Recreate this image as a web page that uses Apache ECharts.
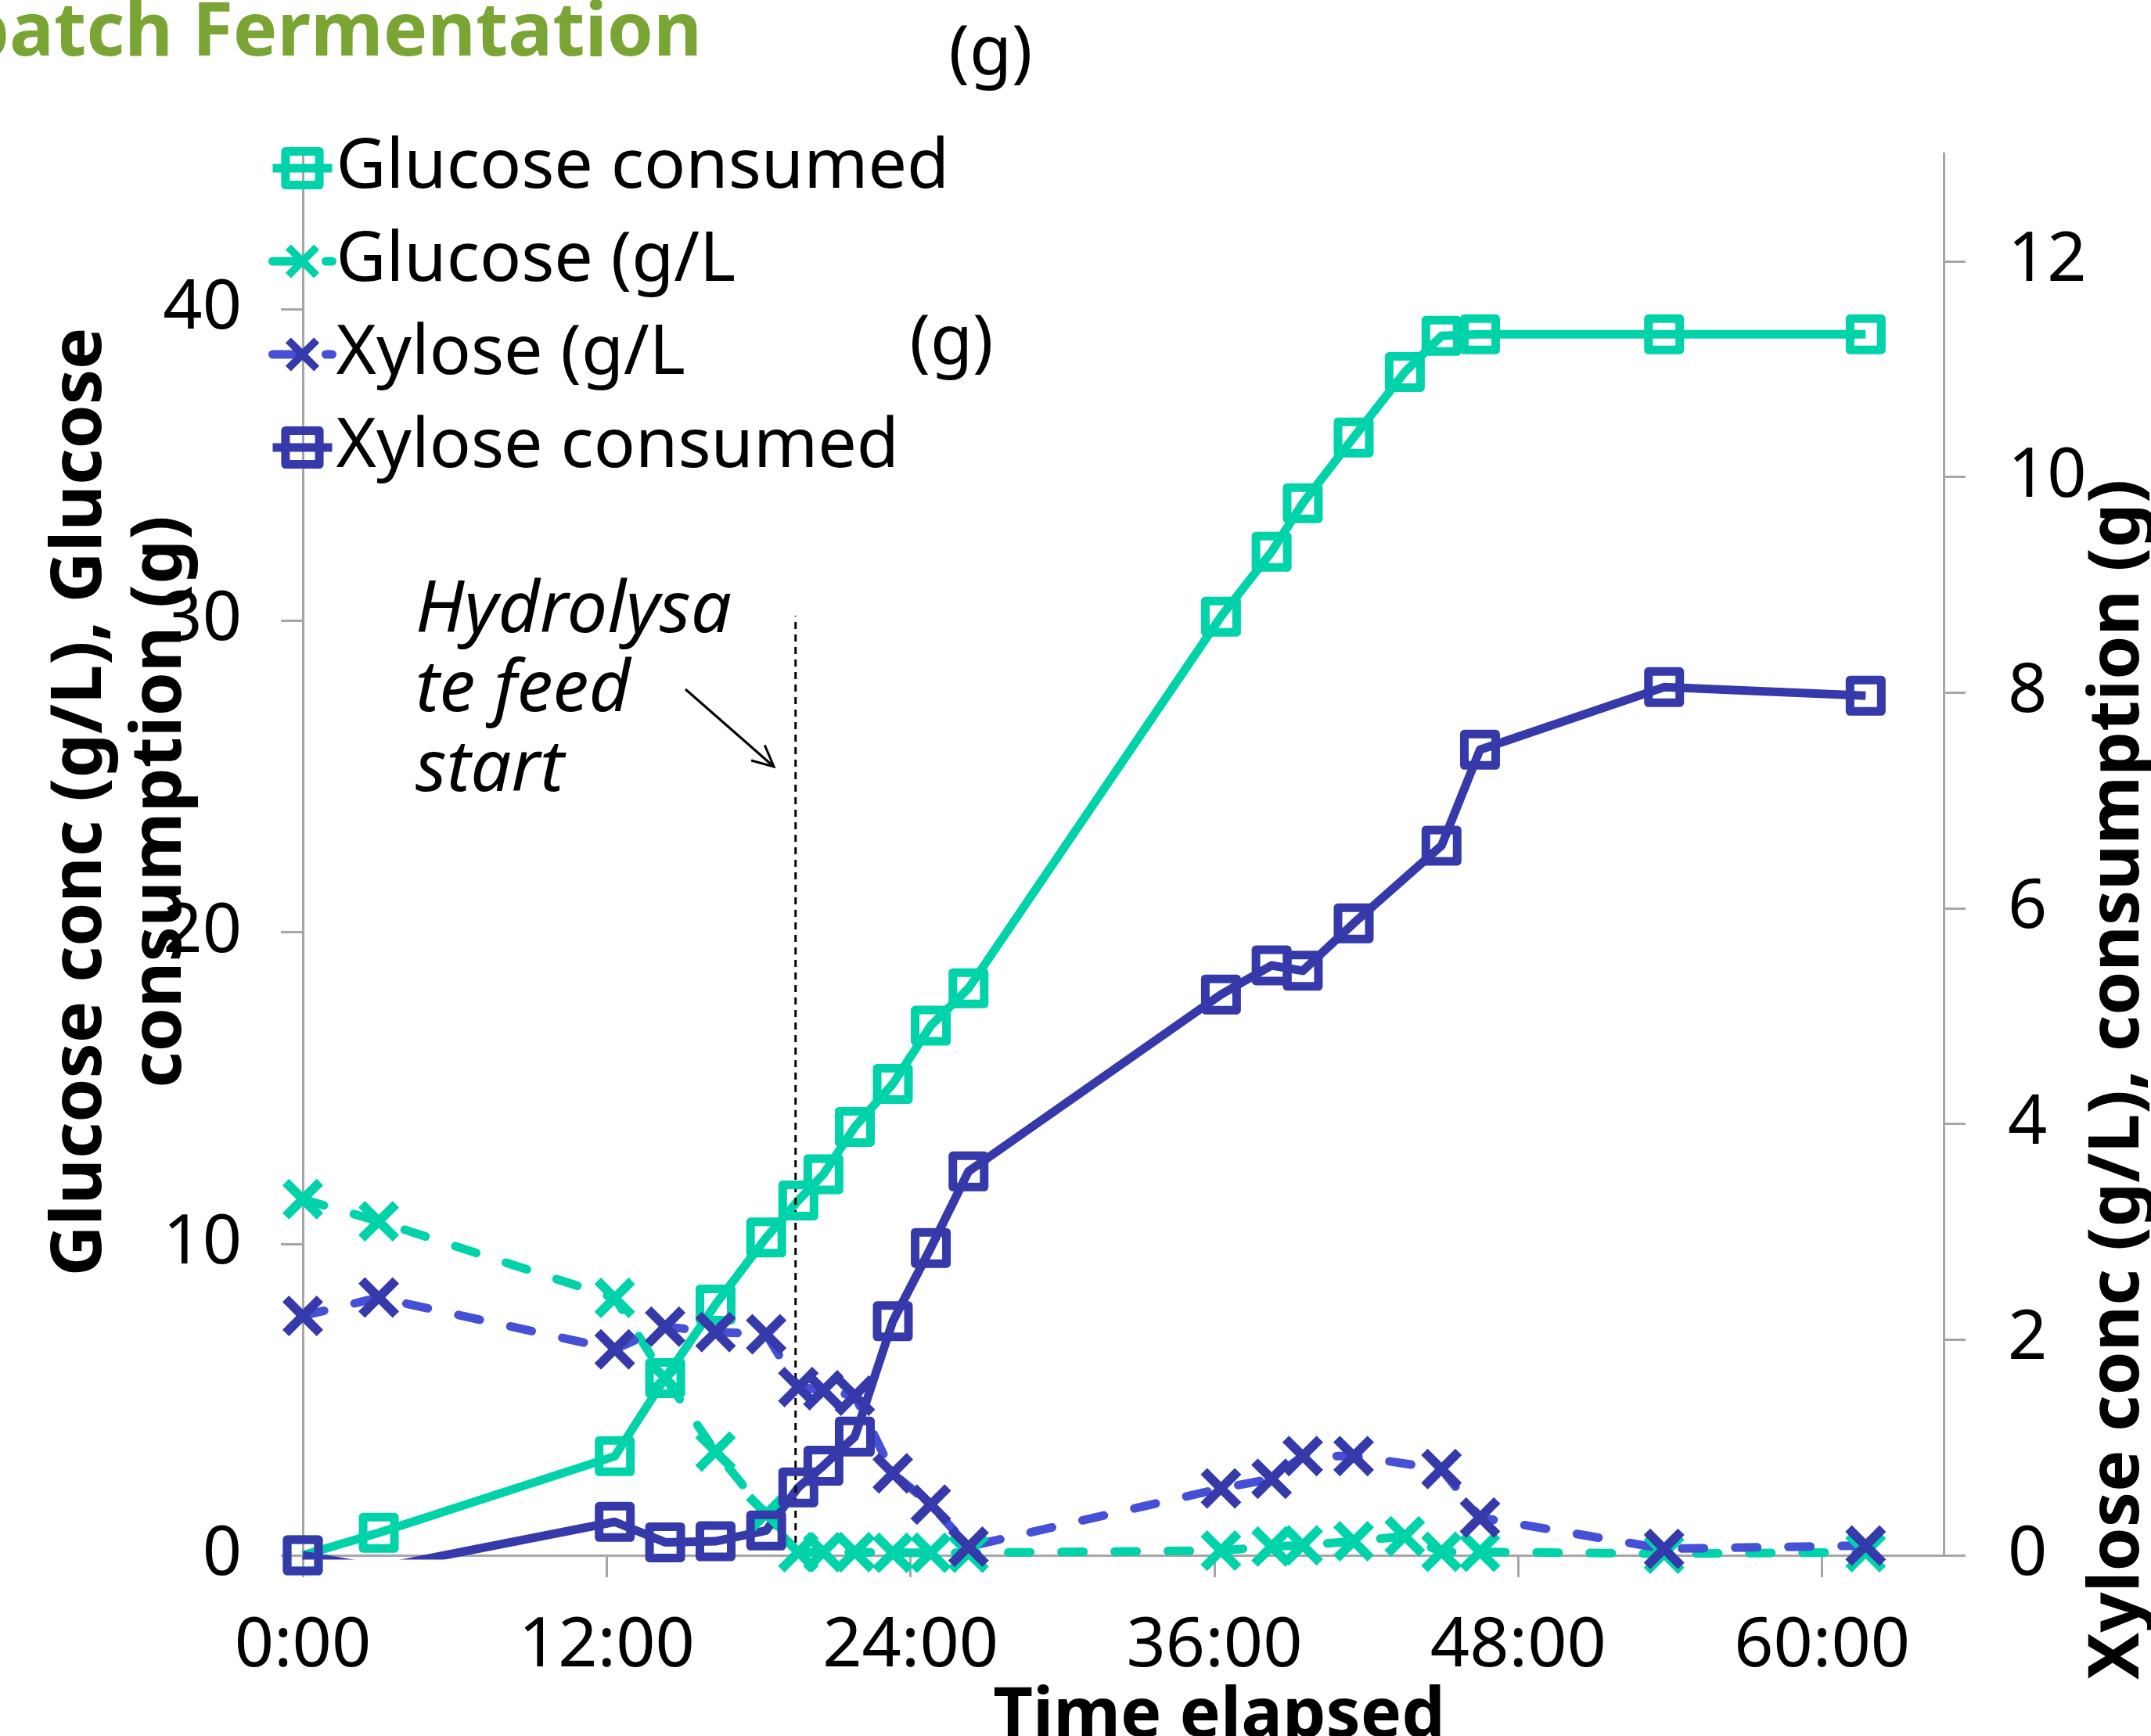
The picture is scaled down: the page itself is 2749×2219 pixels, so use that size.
<!DOCTYPE html>
<html>
<head>
<meta charset="utf-8">
<title>Fed-batch Fermentation</title>
<script src="https://cdn.jsdelivr.net/npm/echarts@6/dist/echarts.min.js"></script>
<style>
  html, body { margin: 0; padding: 0; background: #fff; }
  #chart { width: 2749px; height: 2219px; }
</style>
</head>
<body>
<div id="chart"></div>
<script>
// time points (hours) for the glucose series
const glucoseHours = [0, 3.0, 12.32, 14.31, 16.3, 18.3, 19.57, 20.56, 21.8, 23.3, 24.8, 26.29,
  36.26, 38.26, 39.49, 41.5, 43.52, 44.97, 46.49, 53.76, 61.72]
// time points (hours) for the xylose series (no sample at 43.5 h)
const xyloseHours = [0, 3.0, 12.32, 14.31, 16.3, 18.3, 19.57, 20.56, 21.8, 23.3, 24.8, 26.29,
  36.26, 38.26, 39.49, 41.5, 44.97, 46.49, 53.76, 61.72]

const glucoseConsumed = [0, 0.72, 3.18, 5.69, 8.05, 10.2, 11.39, 12.23, 13.75, 15.13, 17.0, 18.2,
  30.13, 32.21, 33.77, 35.88, 37.98, 39.14, 39.19, 39.19, 39.19]
const glucoseConc = [11.43, 10.72, 8.26, 5.69, 3.33, 1.33, 0.1, 0.1, 0.1, 0.08, 0.08, 0.08,
  0.15, 0.28, 0.32, 0.45, 0.61, 0.11, 0.11, 0.05, 0.1]
const xyloseConc = [2.22, 2.39, 1.91, 2.12, 2.07, 2.05, 1.56, 1.53, 1.48, 0.76, 0.47, 0.08,
  0.62, 0.71, 0.92, 0.92, 0.8, 0.35, 0.06, 0.09]
const xyloseConsumed = [0, -0.12, 0.31, 0.12, 0.13, 0.23, 0.63, 0.83, 1.1, 2.17, 2.85, 3.56,
  5.2, 5.47, 5.42, 5.86, 6.58, 7.47, 8.05, 7.97]

const xTicks = [0, 12, 24, 36, 48, 60]
const leftTicks = [0, 10, 20, 30, 40]
const rightTicks = [0, 2, 4, 6, 8, 10, 12]

// hydrolysate feed start marker
const feedStartHour = 19.46
const feedLineTop = 30.15

const TEAL = '#00d2aa'
const NAVY = '#3539a9'
const BLUE_DASH = '#4650d6'
const AXIS_GRAY = '#a6a6a6'
const FONT = '"Noto Sans", sans-serif'
const X_SYMBOL = 'path://M0,1.6L1.6,0L5,3.4L8.4,0L10,1.6L6.6,5L10,8.4L8.4,10L5,6.6L1.6,10L0,8.4L3.4,5Z'
const LINE_W = 11
const BORDER_W = 11

const pairs = (xs, ys) => xs.map((x, i) => [x, ys[i]])

const chart = echarts.init(document.getElementById('chart'), null, { renderer: 'canvas' })

// arrow of the annotation
const arrowFrom = [876, 881]
const arrowTo = [989, 980]
const ang = Math.atan2(arrowTo[1] - arrowFrom[1], arrowTo[0] - arrowFrom[0])
const headLen = 30
const head = [
  [arrowTo[0] - headLen * Math.cos(ang - 0.45), arrowTo[1] - headLen * Math.sin(ang - 0.45)],
  arrowTo,
  [arrowTo[0] - headLen * Math.cos(ang + 0.45), arrowTo[1] - headLen * Math.sin(ang + 0.45)]
]

const axisCommon = {
  axisLine: { show: true, lineStyle: { color: AXIS_GRAY, width: 3 } },
  axisTick: { show: true, inside: false, length: 28, lineStyle: { color: AXIS_GRAY, width: 3 } },
  splitLine: { show: false },
}

const squareStyle = (c) => ({ color: 'rgba(255,255,255,0)', borderColor: c, borderWidth: BORDER_W, borderJoin: 'round' })

const option = {
  animation: false,
  backgroundColor: '#fff',
  grid: { left: 387, right: 265, top: 196, bottom: 231, containLabel: false, outerBoundsMode: 'none' },
  legend: {
    data: [
      { name: 'Glucose consumed', itemStyle: { borderWidth: BORDER_W } },
      { name: 'Glucose (g/L' },
      { name: 'Xylose (g/L' },
      { name: 'Xylose consumed', itemStyle: { borderWidth: BORDER_W } },
    ],
    orient: 'vertical',
    left: 343,
    top: 165,
    padding: 0,
    itemWidth: 76,
    itemHeight: 54,
    itemGap: 19,
    lineStyle: { width: LINE_W },
    textStyle: { fontFamily: FONT, fontSize: 88, color: '#000', lineHeight: 100 },
  },
  xAxis: {
    type: 'value',
    min: 0,
    max: 64.8,
    interval: 12,
    ...axisCommon,
    axisTick: { ...axisCommon.axisTick, customValues: xTicks },
    axisLabel: {
      customValues: xTicks,
      formatter: (v) => v + ':00',
      fontFamily: FONT, fontSize: 88, color: '#000', margin: 73,
    },
  },
  yAxis: [
    {
      type: 'value',
      min: 0, max: 45, interval: 10,
      position: 'left',
      ...axisCommon,
      axisTick: { ...axisCommon.axisTick, customValues: leftTicks },
      axisLabel: { customValues: leftTicks, fontFamily: FONT, fontSize: 88, color: '#000', margin: 78 },
    },
    {
      type: 'value',
      min: 0, max: 13, interval: 2,
      position: 'right',
      ...axisCommon,
      axisTick: { ...axisCommon.axisTick, customValues: rightTicks },
      axisLabel: { customValues: rightTicks, fontFamily: FONT, fontSize: 88, color: '#000', margin: 82 },
    },
  ],
  series: [
    {
      name: 'Glucose consumed',
      type: 'line',
      yAxisIndex: 0,
      data: pairs(glucoseHours, glucoseConsumed),
      symbol: 'rect',
      symbolSize: 40,
      itemStyle: squareStyle(TEAL),
      lineStyle: { color: TEAL, width: LINE_W, join: 'round' },
    },
    {
      name: 'Glucose (g/L',
      type: 'line',
      yAxisIndex: 0,
      data: pairs(glucoseHours, glucoseConc),
      symbol: X_SYMBOL,
      symbolSize: 52,
      itemStyle: { color: TEAL },
      lineStyle: { color: TEAL, width: LINE_W, type: [28, 40], cap: 'round', join: 'round' },
    },
    {
      name: 'Xylose (g/L',
      type: 'line',
      yAxisIndex: 1,
      data: pairs(xyloseHours, xyloseConc),
      symbol: X_SYMBOL,
      symbolSize: 52,
      itemStyle: { color: NAVY },
      lineStyle: { color: BLUE_DASH, width: LINE_W, type: [28, 40], cap: 'round', join: 'round' },
    },
    {
      name: 'Xylose consumed',
      type: 'line',
      yAxisIndex: 1,
      data: pairs(xyloseHours, xyloseConsumed),
      symbol: 'rect',
      symbolSize: 40,
      itemStyle: squareStyle(NAVY),
      lineStyle: { color: NAVY, width: LINE_W, join: 'round' },
    },
    {
      name: 'feed start',
      type: 'line',
      yAxisIndex: 0,
      data: [[feedStartHour, 0], [feedStartHour, feedLineTop]],
      symbol: 'none',
      silent: true,
      lineStyle: { color: '#000', width: 3, type: [9, 7] },
    },
  ],
  graphic: [
    {
      type: 'text', x: 897, y: 44,
      style: { text: 'Fed-batch Fermentation', font: 'bold 95px ' + FONT, fill: '#7aa535', align: 'right', verticalAlign: 'middle' },
    },
    {
      type: 'text', x: 1266, y: 70,
      style: { text: '(g)', font: '88px ' + FONT, fill: '#000', align: 'center', verticalAlign: 'middle' },
    },
    {
      type: 'text', x: 1216, y: 440,
      style: { text: '(g)', font: '88px ' + FONT, fill: '#000', align: 'center', verticalAlign: 'middle' },
    },
    {
      type: 'text', x: 531, y: 782,
      style: { text: 'Hydrolysa', font: 'italic 92px ' + FONT, fill: '#000', align: 'left', verticalAlign: 'middle' },
    },
    {
      type: 'text', x: 531, y: 883,
      style: { text: 'te feed', font: 'italic 92px ' + FONT, fill: '#000', align: 'left', verticalAlign: 'middle' },
    },
    {
      type: 'text', x: 531, y: 985,
      style: { text: 'start', font: 'italic 92px ' + FONT, fill: '#000', align: 'left', verticalAlign: 'middle' },
    },
    {
      type: 'line',
      shape: { x1: arrowFrom[0], y1: arrowFrom[1], x2: arrowTo[0], y2: arrowTo[1] },
      style: { stroke: '#000', lineWidth: 3 },
    },
    {
      type: 'polyline',
      shape: { points: head },
      style: { stroke: '#000', lineWidth: 3, fill: null },
    },
    {
      type: 'text', x: 103, y: 1025, rotation: Math.PI / 2,
      style: { text: 'Glucose conc (g/L), Glucose', font: 'bold 90px ' + FONT, fill: '#000', align: 'center', verticalAlign: 'middle' },
    },
    {
      type: 'text', x: 205, y: 1025, rotation: Math.PI / 2,
      style: { text: 'consumption (g)', font: 'bold 90px ' + FONT, fill: '#000', align: 'center', verticalAlign: 'middle' },
    },
    {
      type: 'text', x: 2707, y: 2147, rotation: Math.PI / 2,
      style: { text: 'Xylose conc (g/L), consumption (g)', font: 'bold 90px ' + FONT, fill: '#000', align: 'left', verticalAlign: 'middle' },
    },
    {
      type: 'text', x: 1558, y: 2195,
      style: { text: 'Time elapsed', font: 'bold 88px ' + FONT, fill: '#000', align: 'center', verticalAlign: 'middle' },
    },
  ],
}

chart.setOption(option)
</script>
</body>
</html>
